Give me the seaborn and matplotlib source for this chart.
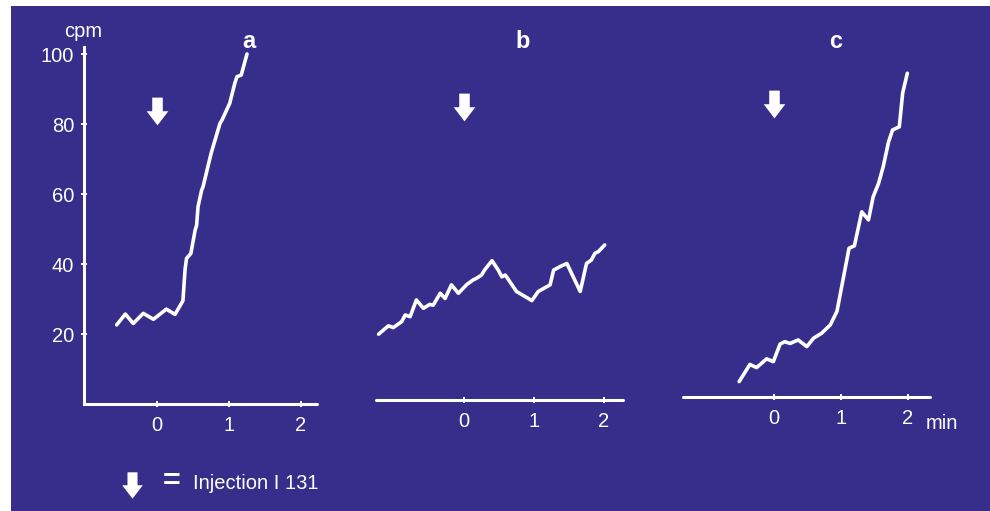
import matplotlib
matplotlib.use("Agg")
import matplotlib.pyplot as plt
import seaborn as sns
import pandas as pd
from matplotlib.path import Path
from matplotlib.lines import Line2D
from matplotlib.patches import Rectangle

# ---------------- data ----------------
time_a = [-0.56, -0.44, -0.33, -0.19, -0.05, 0.13, 0.25, 0.36, 0.39, 0.41, 0.47, 0.53,
          0.55, 0.57, 0.62, 0.64, 0.75, 0.875, 0.90, 1.01, 1.08, 1.11, 1.17, 1.25]
cpm_a = [22.6, 25.7, 23.0, 25.9, 24.2, 27.1, 25.6, 29.5, 38.5, 41.6, 43.0, 49.7,
         51.0, 56.4, 61.1, 62.1, 71.5, 80.2, 81.0, 85.9, 91.6, 93.5, 94.0, 100.0]

time_b = [-1.22, -1.08, -1.01, -0.89, -0.84, -0.77, -0.68, -0.58, -0.49, -0.44, -0.34, -0.27,
          -0.18, -0.08, 0.04, 0.13, 0.18, 0.25, 0.30, 0.40, 0.49, 0.54, 0.59, 0.75, 0.97,
          1.06, 1.23, 1.28, 1.37, 1.47, 1.66, 1.75, 1.82, 1.87, 1.92, 2.01]
cpm_b = [18.8, 21.2, 20.7, 22.4, 24.3, 23.8, 28.6, 26.2, 27.3, 27.1, 30.5, 29.0,
         32.9, 30.5, 33.0, 34.3, 34.8, 35.7, 37.3, 39.8, 37.1, 35.2, 35.7, 31.0, 28.4,
         31.0, 32.9, 37.1, 38.1, 39.0, 31.0, 39.0, 40.0, 41.9, 42.4, 44.3]

time_c = [-0.52, -0.36, -0.26, -0.11, -0.01, 0.09, 0.16, 0.24, 0.36, 0.49, 0.59, 0.71, 0.84,
          0.94, 1.01, 1.12, 1.20, 1.31, 1.41, 1.48, 1.56, 1.63, 1.71, 1.77, 1.87, 1.92, 1.99]
cpm_c = [4.4, 9.3, 8.4, 10.9, 10.1, 15.1, 15.8, 15.3, 16.3, 14.4, 16.8, 18.2, 20.6,
         24.5, 31.5, 42.5, 43.2, 52.9, 50.6, 57.2, 61.0, 65.8, 72.9, 76.3, 77.2, 86.8, 92.5]

panel_labels = ["a", "b", "c"]
x_ticks = [0, 1, 2]
x_tick_labels = ["0", "1", "2"]
y_ticks = [20, 40, 60, 80, 100]
y_tick_labels = ["20", "40", "60", "80", "100"]
injection_time = 0
y_label = "cpm"
x_label = "min"
legend_text = "Injection I 131"

# ---------------- style ----------------
sns.set_theme(style="white")
plt.rcParams["font.family"] = ["Liberation Sans", "DejaVu Sans"]

BG = "#372d8b"
FG = "white"
W, H = 990, 511

fig = plt.figure(figsize=(W / 100, H / 100), dpi=100)
fig.patch.set_facecolor("white")
fig.add_artist(Rectangle((11 / W, 0), 1 - 11 / W, 1 - 6 / H, transform=fig.transFigure,
                         facecolor=BG, edgecolor="none", zorder=-5))

# arrow marker (down arrow)
arrow = Path([(-0.38, 1), (0.38, 1), (0.38, 0.02), (0.78, 0.02), (0, -1),
              (-0.78, 0.02), (-0.38, 0.02), (-0.38, 1)],
             [Path.MOVETO] + [Path.LINETO] * 6 + [Path.CLOSEPOLY])


def px_axes(x0, x1, ybot, ytop):
    return fig.add_axes([x0 / W, 1 - ybot / H, (x1 - x0) / W, (ybot - ytop) / H])


# (left px, right px, axis y px, px per minute, px of t=0)
layout = [
    (84, 317, 404, 72, 157),
    (376, 623, 400, 70, 464),
    (683, 930, 397, 67, 774),
]
px_per_unit = 3.5
ymax = 102
series = [(time_a, cpm_a), (time_b, cpm_b), (time_c, cpm_c)]
letter_x = [249, 523, 836]

axes = []
for i, ((x0, x1, yb, ppm, zero), (t, v)) in enumerate(zip(layout, series)):
    ax = px_axes(x0, x1, yb, yb - ymax * px_per_unit)
    ax.set_facecolor("none")
    df = pd.DataFrame({"t": t, "cpm": v})
    sns.lineplot(data=df, x="t", y="cpm", ax=ax, color=FG, lw=2.6, sort=False,
                 solid_joinstyle="round", solid_capstyle="round")
    ax.set_xlim((x0 - zero) / ppm, (x1 - zero) / ppm)
    ax.set_ylim(0, ymax)
    ax.set_xlabel("")
    ax.set_ylabel("")
    ax.set_xticks(x_ticks)
    ax.set_xticklabels(x_tick_labels)
    for s in ["top", "right"]:
        ax.spines[s].set_visible(False)
    ax.spines["bottom"].set_color(FG)
    ax.spines["bottom"].set_linewidth(2.2)
    ax.spines["bottom"].set_capstyle("round")
    if i == 0:
        ax.spines["left"].set_color(FG)
        ax.spines["left"].set_linewidth(2.2)
        ax.set_yticks(y_ticks)
        ax.set_yticklabels(y_tick_labels)
        ax.tick_params(axis="y", left=True, direction="inout", length=5, width=1.4,
                       colors=FG, labelsize=14.5, pad=4.5)
    else:
        ax.spines["left"].set_visible(False)
        ax.set_yticks([])
    ax.tick_params(axis="x", bottom=True, direction="inout", length=5, width=1.4,
                   colors=FG, labelsize=14.5, pad=6)
    # injection arrow
    ax.plot([injection_time], [83.7], marker=arrow, ms=20, color=FG, mew=0, ls="none")
    fig.text(letter_x[i] / W, 1 - 41 / H, panel_labels[i], color=FG, fontsize=17,
             fontweight="bold", ha="center", va="center")
    axes.append(ax)

fig.text(83 / W, 1 - 31 / H, y_label, color=FG, fontsize=14.5, ha="center", va="center")
fig.text(926 / W, 1 - 423 / H, x_label, color=FG, fontsize=14.5, ha="left", va="center")

# legend
fig.add_artist(Line2D([132 / W], [1 - 485 / H], transform=fig.transFigure, marker=arrow,
                      ms=19, color=FG, mew=0, ls="none"))
fig.text(172 / W, 1 - 482 / H, "=", color=FG, fontsize=22, fontweight="bold",
         ha="center", va="center")
fig.text(193 / W, 1 - 483 / H, legend_text, color=FG, fontsize=14.5, ha="left",
         va="center")

fig.savefig("out.png", dpi=100, facecolor=fig.get_facecolor())
